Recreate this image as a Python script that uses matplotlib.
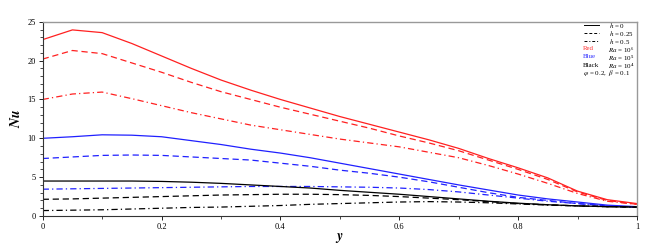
import matplotlib
matplotlib.use("Agg")
import matplotlib.pyplot as plt
from matplotlib.ticker import MultipleLocator

plt.rcParams['font.family'] = ['Liberation Serif', 'DejaVu Serif']
plt.rcParams['mathtext.fontset'] = 'stix'

y_pos = [0.0, 0.05, 0.1, 0.15, 0.2, 0.25, 0.3, 0.35, 0.4, 0.45, 0.5,
         0.55, 0.6, 0.65, 0.7, 0.75, 0.8, 0.85, 0.9, 0.95, 1.0]

# Ra = 1e6 (red)
red_h0 = [22.7, 23.95, 23.6, 22.2, 20.6, 19.0, 17.5, 16.2, 15.0, 13.9, 12.8,
          11.8, 10.8, 9.8, 8.7, 7.4, 6.2, 4.9, 3.2, 2.1, 1.6]
red_h025 = [20.2, 21.3, 20.9, 19.7, 18.5, 17.2, 16.0, 15.0, 14.0, 13.1, 12.2,
            11.3, 10.3, 9.4, 8.4, 7.2, 6.0, 4.7, 3.1, 2.0, 1.5]
red_h05 = [15.0, 15.7, 15.95, 15.1, 14.2, 13.3, 12.5, 11.7, 11.1, 10.5, 9.9,
           9.4, 8.9, 8.2, 7.5, 6.5, 5.4, 4.2, 2.9, 1.9, 1.5]
# Ra = 1e5 (blue)
blue_h0 = [10.0, 10.2, 10.45, 10.4, 10.2, 9.7, 9.2, 8.6, 8.1, 7.5, 6.8,
           6.1, 5.4, 4.7, 4.0, 3.35, 2.7, 2.2, 1.8, 1.4, 1.2]
blue_h025 = [7.4, 7.6, 7.8, 7.85, 7.8, 7.6, 7.4, 7.2, 6.8, 6.4, 5.9,
             5.5, 5.0, 4.4, 3.7, 3.0, 2.4, 2.0, 1.6, 1.3, 1.1]
blue_h05 = [3.45, 3.5, 3.55, 3.6, 3.65, 3.7, 3.75, 3.8, 3.8, 3.8, 3.75,
            3.7, 3.6, 3.4, 3.1, 2.7, 2.3, 1.9, 1.6, 1.3, 1.1]
# Ra = 1e4 (black)
black_h0 = [4.5, 4.5, 4.5, 4.5, 4.45, 4.35, 4.2, 4.0, 3.8, 3.6, 3.3,
            3.05, 2.8, 2.5, 2.2, 1.9, 1.65, 1.45, 1.3, 1.2, 1.15]
black_h025 = [2.15, 2.2, 2.3, 2.4, 2.5, 2.6, 2.7, 2.75, 2.8, 2.8, 2.75,
              2.65, 2.5, 2.3, 2.1, 1.85, 1.6, 1.45, 1.3, 1.2, 1.15]
black_h05 = [0.7, 0.75, 0.8, 0.9, 1.0, 1.1, 1.15, 1.25, 1.35, 1.5, 1.6,
             1.7, 1.8, 1.85, 1.8, 1.7, 1.55, 1.4, 1.3, 1.2, 1.15]

x_ticks = [0, 0.2, 0.4, 0.6, 0.8, 1.0]
x_ticklabels = ['0', '0.2', '0.4', '0.6', '0.8', '1']

series = [
    (red_h0, '#ff2020', '-'), (red_h025, '#ff2020', '--'), (red_h05, '#ff2020', '-.'),
    (blue_h0, '#2020ff', '-'), (blue_h025, '#2020ff', '--'), (blue_h05, '#2020ff', '-.'),
    (black_h0, 'black', '-'), (black_h025, 'black', '--'), (black_h05, 'black', '-.'),
]

fig = plt.figure(figsize=(6.62, 2.5), dpi=100)
ax = fig.add_axes([0.0645, 0.136, 0.8977, 0.777])

for vals, col, ls in series:
    if ls == '--':
        ax.plot(y_pos, vals, color=col, lw=0.9, dashes=(5, 3))
    elif ls == '-.':
        ax.plot(y_pos, vals, color=col, lw=0.9, dashes=(5, 2.5, 1, 2.5))
    else:
        ax.plot(y_pos, vals, color=col, lw=0.9)

ax.set_xlim(0, 1)
ax.set_ylim(0, 25)
ax.xaxis.set_minor_locator(MultipleLocator(0.1))
ax.yaxis.set_major_locator(MultipleLocator(5))
ax.yaxis.set_minor_locator(MultipleLocator(1))
ax.set_xticks(x_ticks)
ax.set_xticklabels(x_ticklabels)
ax.tick_params(axis='both', which='major', labelsize=6, length=3, width=0.6, pad=2)
ax.tick_params(axis='both', which='minor', length=2, width=0.5)
for s in ['top', 'right']:
    ax.spines[s].set_color('#999999')
    ax.spines[s].set_linewidth(1.0)
for s in ['left', 'bottom']:
    ax.spines[s].set_color('#333333')
    ax.spines[s].set_linewidth(0.8)

ax.set_ylabel(r'$\boldsymbol{Nu}$', fontsize=10, labelpad=3)
ax.set_xlabel(r'$\boldsymbol{y}$', fontsize=10, labelpad=0)

# legend-like annotation block (figure pixel positions)
styles = [None, (3, 2), (3, 2, 1, 2)]
h_labels = [r'$h$ = 0', r'$h$ = 0.25', r'$h$ = 0.5']
h_rows = [25, 33, 41]
for ypix, d, lab in zip(h_rows, styles, h_labels):
    yf = 1 - ypix / 250
    kw = dict(color='black', lw=0.7, transform=fig.transFigure)
    if d is not None:
        kw['dashes'] = d
    fig.add_artist(plt.Line2D([584 / 662, 599 / 662], [yf, yf], **kw))
    fig.text(609 / 662, yf, lab, fontsize=5, va='center', ha='left')

rows2 = [(49, 'Red', '#ff3030', r'$Ra$ = 10⁶'),
         (57, 'Blue', '#3030ff', r'$Ra$ = 10⁵'),
         (65.5, 'Black', 'black', r'$Ra$ = 10⁴')]
for ypix, name, col, lab in rows2:
    yf = 1 - ypix / 250
    fig.text(583 / 662, yf, name, fontsize=5, color=col, va='center', ha='left')
    fig.text(608 / 662, yf, lab, fontsize=5, va='center', ha='left')
fig.text(583 / 662, 1 - 73.5 / 250, r'$\varphi$ = 0.2,  $\beta$ = 0.1', fontsize=5,
         va='center', ha='left')

fig.savefig('out.png', dpi=100)
